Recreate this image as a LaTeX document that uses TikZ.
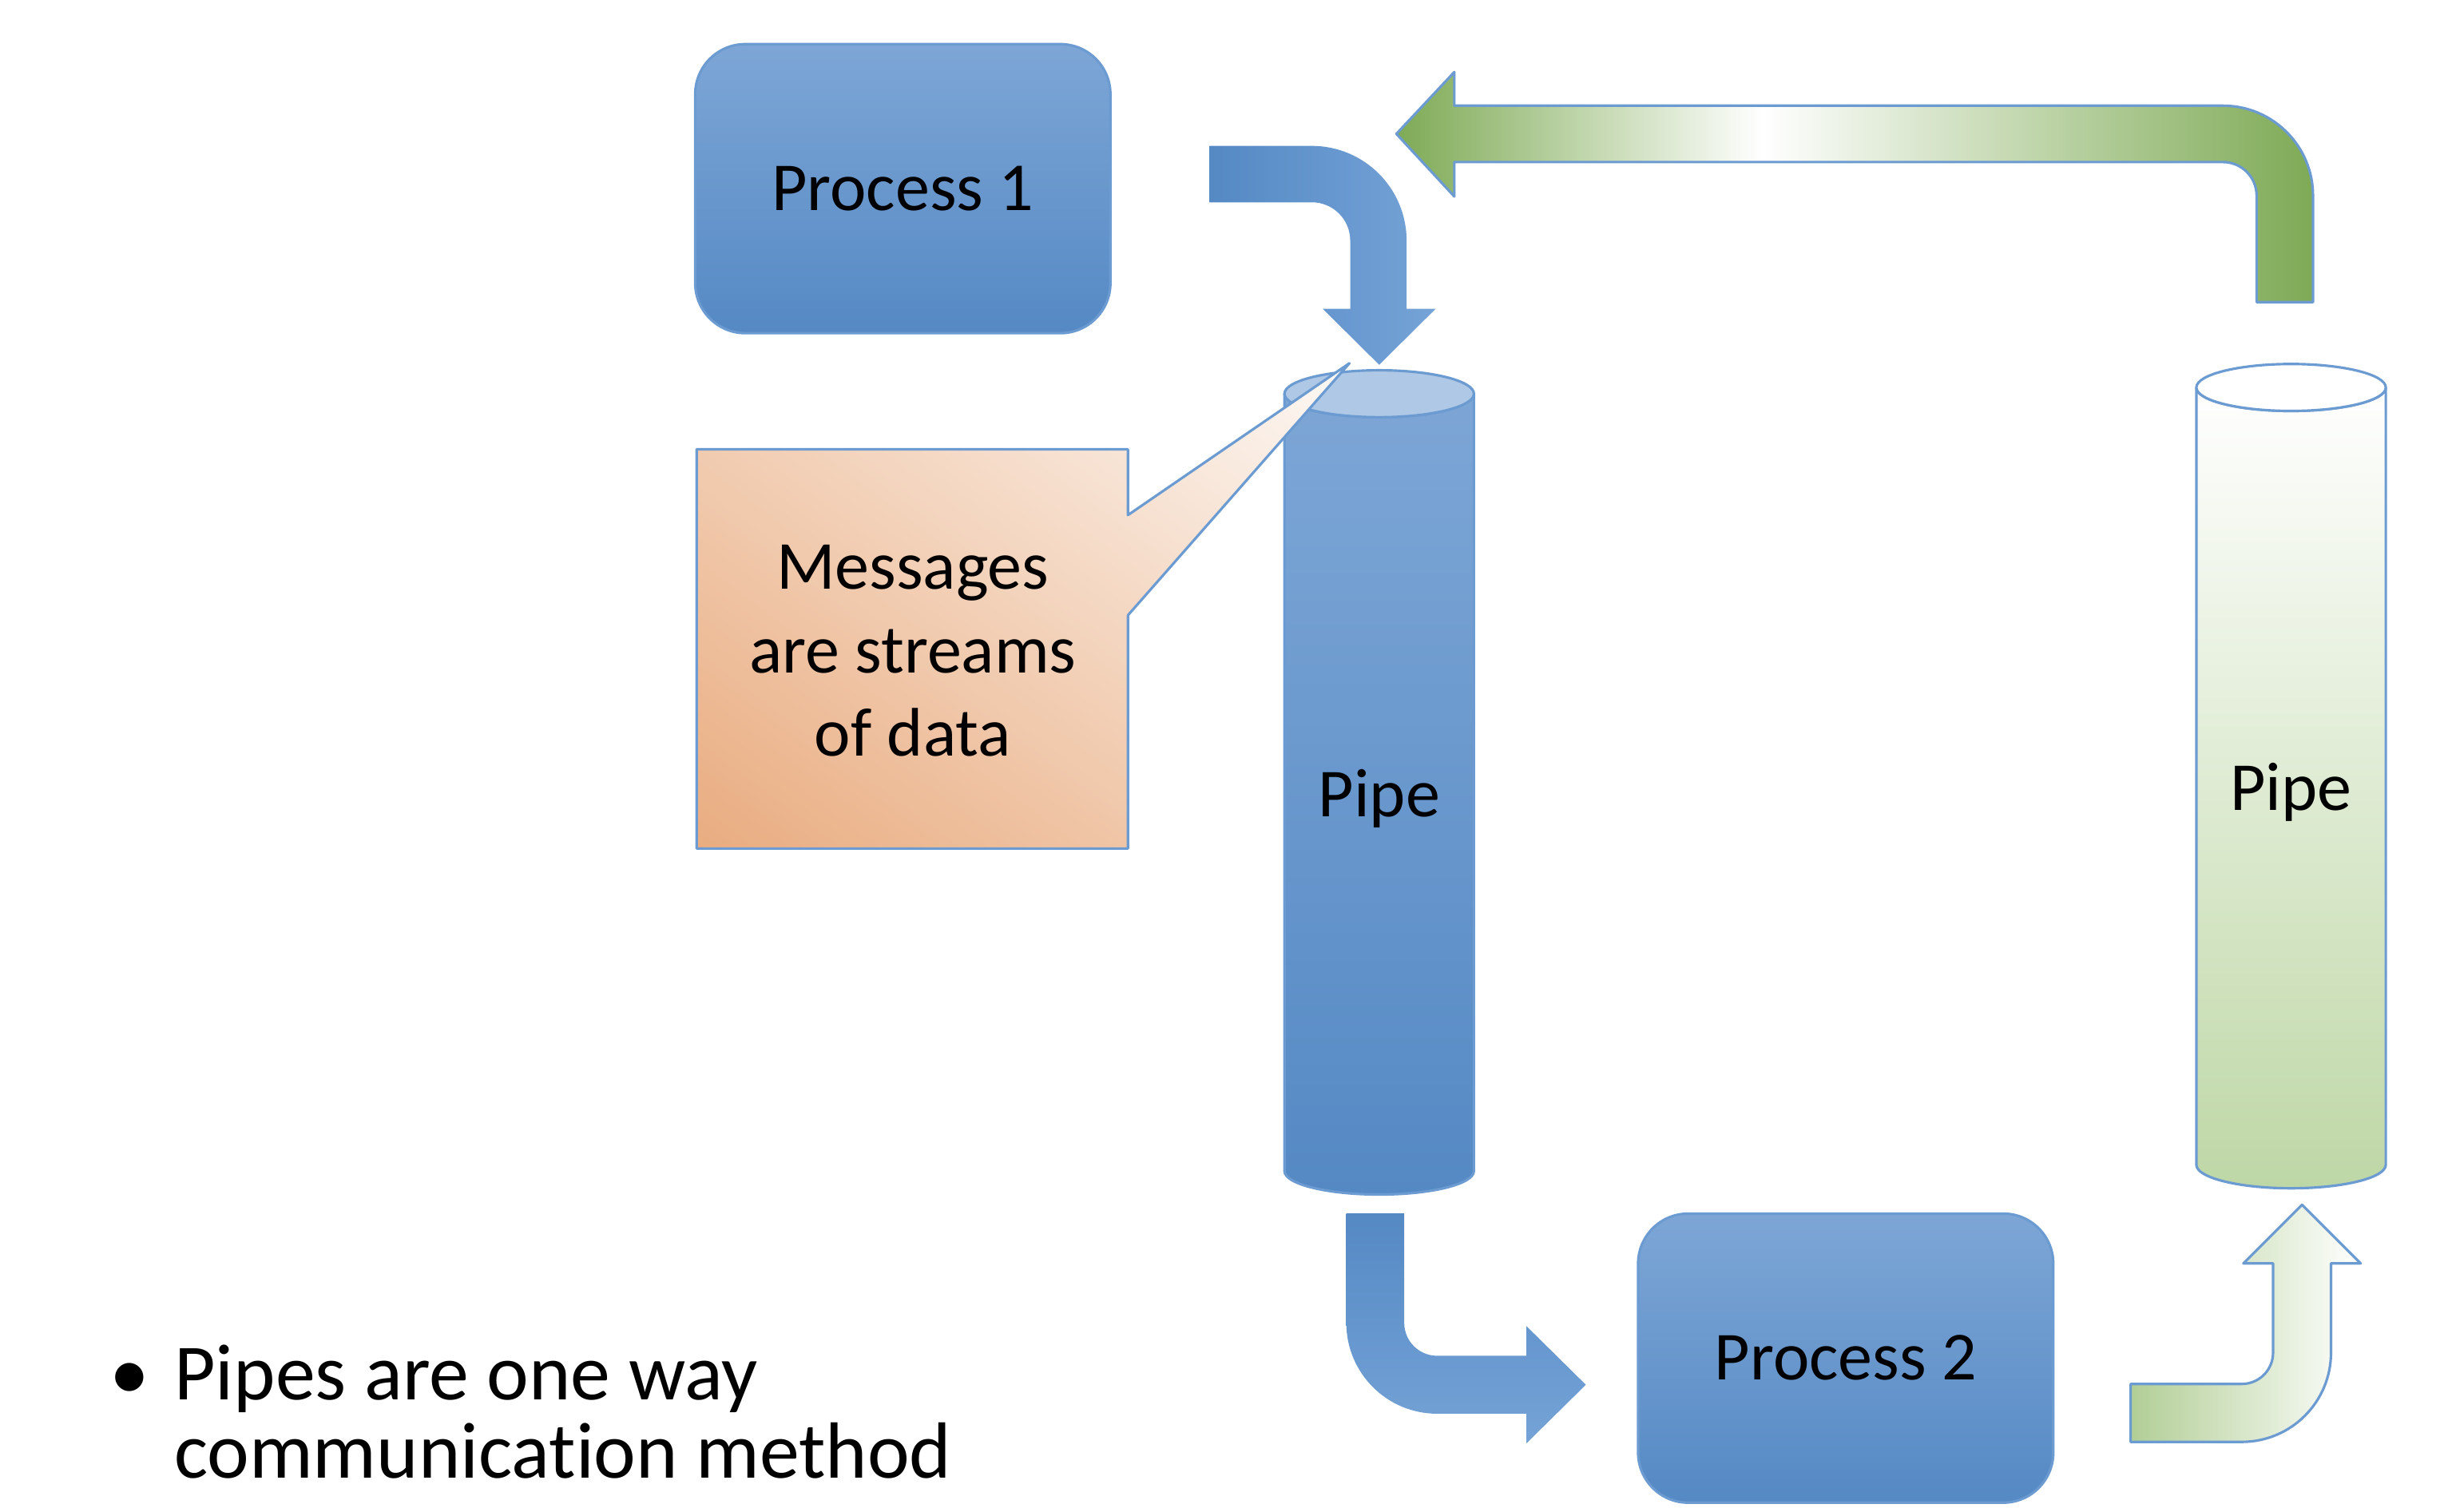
\documentclass[tikz,border=0pt]{standalone}
\usepackage{fontspec}
\usetikzlibrary{shadings}
\setmainfont{Carlito}[Ligatures=NoCommon]
\definecolor{blueTop}{RGB}{125,166,214}
\definecolor{blueBot}{RGB}{85,137,196}
\definecolor{blueLine}{RGB}{108,155,210}
\definecolor{capBlue}{RGB}{174,200,230}
\definecolor{arrLight}{RGB}{117,163,215}
\definecolor{gDark}{RGB}{126,170,85}
\definecolor{gLight}{RGB}{190,215,166}
\definecolor{gMid}{RGB}{178,206,150}
\definecolor{orDark}{RGB}{233,172,128}
\definecolor{orMid}{RGB}{243,210,186}
\definecolor{orLight}{RGB}{253,249,246}
\pgfdeclarehorizontalshading{greenarrow}{100bp}{color(0bp)=(gDark); color(25bp)=(gDark); color(45bp)=(white); color(75bp)=(gDark); color(100bp)=(gDark)}
\begin{document}
\begin{tikzpicture}[x=0.0196cm,y=-0.0196cm,
  outline/.style={draw=blueLine,line width=0.9pt,line join=round},
  procbox/.style={outline,rounded corners=0.627cm,top color=blueTop,bottom color=blueBot,
    minimum width=5.2cm,minimum height=3.62cm,inner sep=0pt,
    font=\fontsize{24.5}{29.8}\selectfont},
  lbl/.style={inner sep=0pt,font=\fontsize{24.5}{29.8}\selectfont},
  bullettext/.style={inner sep=0pt,anchor=base west,font=\fontsize{28.4}{27.8}\selectfont}]
\useasboundingbox (0,0) rectangle (1566.3,965.3);

% ---- blue pipe (cylinder) ----
\shade[outline,top color=blueTop,bottom color=blueBot]
  (820.5,251.5) -- (820.5,748) arc[start angle=180,end angle=0,x radius=60.5,y radius=15]
  -- (941.5,251.5) arc[start angle=0,end angle=180,x radius=60.5,y radius=15] -- cycle;
\filldraw[outline,fill=capBlue] (881,251.5) ellipse[x radius=60.5,y radius=15];
\node[lbl] (pipe1) at (881,510) {Pipe};

% ---- green pipe (cylinder) ----
\shade[outline,top color=white,bottom color=gLight]
  (1403,247.5) -- (1403,744) arc[start angle=180,end angle=0,x radius=60.5,y radius=15]
  -- (1524,247.5) arc[start angle=0,end angle=180,x radius=60.5,y radius=15] -- cycle;
\filldraw[outline,fill=white] (1463.5,247.5) ellipse[x radius=60.5,y radius=15];
\node[lbl] (pipe2) at (1463.5,506) {Pipe};

% ---- processes ----
\node[procbox] (p1) at (576.7,120.5) {Process 1};
\node[procbox] (p2) at (1179,867.5) {Process 2};

% ---- blue arrow: Process 1 -> pipe ----
\shade[left color=blueBot,right color=arrLight]
  (772.6,93.2) -- (838,93.2) arc[start angle=270,end angle=360,radius=60.5]
  -- (898.5,197.3) -- (917,197.3) -- (881,233) -- (845,197.3) -- (862.5,197.3)
  -- (862.5,153.7) arc[start angle=360,end angle=270,radius=24.5]
  -- (772.6,129.2) -- cycle;

% ---- blue arrow: pipe -> Process 2 ----
\shade[top color=blueBot,bottom color=arrLight]
  (860,775) -- (860,845) arc[start angle=180,end angle=90,radius=58]
  -- (975,903) -- (975,922) -- (1013,884.5) -- (975,847) -- (975,866)
  -- (918,866) arc[start angle=90,end angle=180,radius=21]
  -- (897,775) -- cycle;

% ---- green arrow: Process 2 -> green pipe ----
\shade[outline,left color=gMid,right color=white]
  (1361,884) -- (1432,884) arc[start angle=90,end angle=0,radius=20]
  -- (1452,807) -- (1433,807) -- (1470.5,769.5) -- (1508,807) -- (1489,807)
  -- (1489,864) arc[start angle=0,end angle=90,radius=57]
  -- (1361,921) -- cycle;

% ---- green arrow: green pipe -> Process 1 ----
\shade[outline,shading=greenarrow]
  (1477.5,193) -- (1477.5,125) arc[start angle=0,end angle=-90,radius=57.5]
  -- (929,67.5) -- (929,46) -- (892,85.5) -- (929,125.5) -- (929,103.5)
  -- (1420,103.5) arc[start angle=-90,end angle=0,radius=21.5]
  -- (1441.5,193) -- cycle;

% ---- callout ----
\shade[outline,upper right=orLight,lower left=orDark,upper left=orMid,lower right=orMid]
  (445,287) -- (720.5,287) -- (720.5,329) -- (862,232) -- (720.5,393)
  -- (720.5,542) -- (445,542) -- cycle;
\node[lbl,align=center,anchor=base] (msg) at (583,483) {Messages\\are streams\\of data};

% ---- bullet text ----
\node[inner sep=0pt,anchor=base,font=\fontsize{28.4}{27.8}\selectfont] (bul) at (83,894) {•};
\node[bullettext] (t1) at (111,894) {Pipes are one way};
\node[bullettext] (t2) at (111,944) {communication method};
\end{tikzpicture}
\end{document}
